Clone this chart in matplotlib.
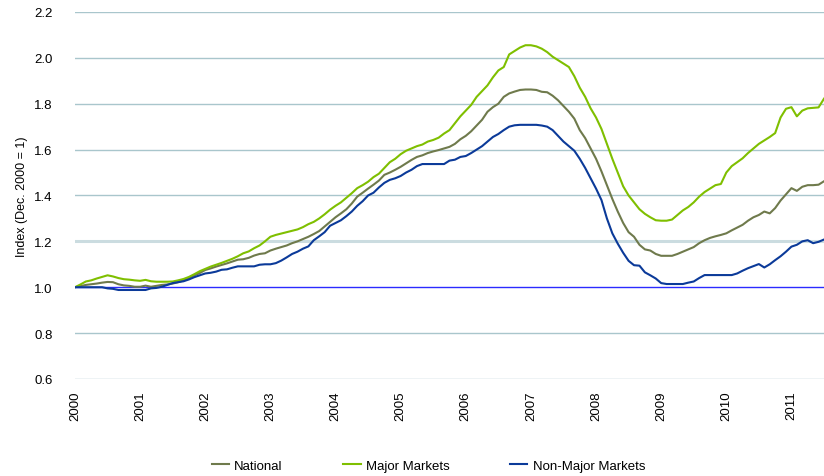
import numpy as np
import matplotlib
matplotlib.use("Agg")
from matplotlib import pyplot as plt

plt.rcParams['font.family'] = ['Liberation Sans', 'DejaVu Sans']

# monthly index values, Jan 2000 onwards (Dec. 2000 = 1)
national = [
    1.000, 1.005, 1.010, 1.013, 1.016, 1.020, 1.023, 1.022, 1.013, 1.008, 1.006, 1.002,
    1.002, 1.007, 1.002, 1.006, 1.010, 1.012, 1.016, 1.022, 1.030, 1.040, 1.052, 1.062,
    1.075, 1.082, 1.090, 1.097, 1.104, 1.112, 1.120, 1.122, 1.128, 1.138, 1.145, 1.148,
    1.160, 1.168, 1.175, 1.182, 1.192, 1.200, 1.210, 1.220, 1.232, 1.245, 1.265, 1.285,
    1.305, 1.322, 1.340, 1.365, 1.395, 1.412, 1.430, 1.447, 1.465, 1.490, 1.500, 1.512,
    1.525, 1.540, 1.555, 1.568, 1.575, 1.585, 1.592, 1.598, 1.605, 1.612, 1.625, 1.645,
    1.660, 1.680, 1.705, 1.730, 1.765, 1.785, 1.800, 1.830, 1.845, 1.853, 1.860, 1.862,
    1.862, 1.860, 1.852, 1.850, 1.835, 1.815, 1.790, 1.765, 1.735, 1.685, 1.650, 1.605,
    1.560, 1.505, 1.445, 1.385, 1.330, 1.280, 1.240, 1.220, 1.185, 1.165, 1.160, 1.145,
    1.137, 1.137, 1.137, 1.145, 1.155, 1.165, 1.175, 1.192, 1.205, 1.215, 1.222, 1.228,
    1.235, 1.248, 1.260, 1.272, 1.290, 1.305, 1.315, 1.330, 1.322, 1.345, 1.378, 1.405,
    1.432, 1.420, 1.438, 1.445, 1.445, 1.447, 1.462,
]
major = [
    1.000, 1.012, 1.025, 1.030, 1.038, 1.045, 1.052, 1.047, 1.040, 1.035, 1.033, 1.030,
    1.028, 1.032, 1.026, 1.024, 1.024, 1.024, 1.025, 1.030, 1.036, 1.045, 1.057, 1.070,
    1.080, 1.090, 1.098, 1.106, 1.115, 1.124, 1.135, 1.148, 1.156, 1.170, 1.182, 1.200,
    1.220, 1.228, 1.234, 1.240, 1.246, 1.252, 1.262, 1.275, 1.285, 1.300, 1.318, 1.338,
    1.355, 1.370, 1.390, 1.410, 1.432, 1.445, 1.460, 1.480, 1.495, 1.520, 1.545, 1.560,
    1.580, 1.595, 1.605, 1.615, 1.622, 1.635, 1.642, 1.652, 1.670, 1.685, 1.715, 1.745,
    1.770, 1.795, 1.830, 1.855, 1.880, 1.915, 1.945, 1.960, 2.015, 2.030, 2.045, 2.055,
    2.055, 2.050, 2.040, 2.025, 2.005, 1.990, 1.975, 1.960, 1.920, 1.870, 1.830, 1.780,
    1.740, 1.690, 1.625, 1.560, 1.500, 1.440, 1.400, 1.370, 1.340, 1.320, 1.305, 1.292,
    1.290, 1.290, 1.295, 1.315, 1.335, 1.350, 1.370, 1.395, 1.415, 1.430, 1.445, 1.450,
    1.500, 1.528, 1.545, 1.562, 1.585, 1.605, 1.625, 1.640, 1.655, 1.672, 1.740, 1.778,
    1.785, 1.745, 1.770, 1.780, 1.782, 1.784, 1.822,
]
non_major = [
    1.000, 1.000, 1.000, 1.000, 1.000, 1.000, 0.995, 0.993, 0.988, 0.988, 0.988, 0.988,
    0.988, 0.988, 0.995, 0.997, 1.002, 1.010, 1.018, 1.022, 1.026, 1.034, 1.044, 1.052,
    1.060, 1.063, 1.068, 1.076, 1.078, 1.085, 1.091, 1.091, 1.091, 1.091, 1.098, 1.100,
    1.100, 1.105, 1.116, 1.130, 1.145, 1.155, 1.168, 1.178, 1.205, 1.222, 1.240, 1.268,
    1.280, 1.292, 1.310, 1.330, 1.355, 1.375, 1.400, 1.412, 1.435, 1.455, 1.468, 1.475,
    1.485, 1.500, 1.512, 1.528, 1.537, 1.537, 1.537, 1.537, 1.537, 1.552, 1.556, 1.568,
    1.572, 1.585, 1.600, 1.615, 1.635, 1.655, 1.668, 1.685, 1.700, 1.706, 1.708, 1.708,
    1.708, 1.708, 1.705, 1.700, 1.685, 1.660, 1.635, 1.615, 1.595, 1.560, 1.520, 1.475,
    1.430, 1.380, 1.300, 1.235, 1.190, 1.150, 1.115, 1.096, 1.094, 1.065, 1.052, 1.038,
    1.018, 1.014, 1.014, 1.014, 1.014, 1.020, 1.025, 1.040, 1.053, 1.053, 1.053, 1.053,
    1.053, 1.053, 1.060, 1.072, 1.083, 1.092, 1.101, 1.086, 1.100, 1.118, 1.135, 1.155,
    1.177, 1.185, 1.200, 1.205, 1.192, 1.198, 1.208,
]
years = list(range(2000, 2012))
y_ticks = [0.6, 0.8, 1.0, 1.2, 1.4, 1.6, 1.8, 2.0, 2.2]

t = 2000 + np.arange(len(national)) / 12.0

fig = plt.figure(figsize=(8.24, 4.77), dpi=100)
ax = fig.add_axes([0.091, 0.2034, 0.909, 0.7694])

for yv in y_ticks:
    if yv == 1.0:
        continue
    ax.axhline(yv, color='#a9c6cc', lw=1.0 if yv != 1.2 else 2.2,
               alpha=1.0 if yv != 1.2 else 0.6, zorder=1)
ax.axhline(1.0, color='#2b2bff', lw=1.0, zorder=2)

ax.plot(t, national, color='#6f7a4c', lw=1.5, label='National', zorder=3)
ax.plot(t, major, color='#7fbf00', lw=1.5, label='Major Markets', zorder=3)
ax.plot(t, non_major, color='#0b3a99', lw=1.5, label='Non-Major Markets', zorder=3)

ax.set_xlim(t[0], t[-1])
ax.set_ylim(0.6, 2.2)
ax.set_yticks(y_ticks)
ax.set_yticklabels(['%.1f' % v for v in y_ticks], fontsize=9.5)
ax.set_xticks(years)
ax.set_xticklabels([str(y) for y in years], rotation=90, fontsize=9.5)
ax.tick_params(length=0, pad=8)
ax.tick_params(axis='y', pad=16)
for s in ax.spines.values():
    s.set_visible(False)
ax.set_ylabel('Index (Dec. 2000 = 1)', fontsize=9)
ax.yaxis.set_label_coords(-0.063, 0.5)

fig.legend(loc='center', bbox_to_anchor=(0.52, 0.021), ncol=3, frameon=False,
           fontsize=9.5, handlelength=1.3, columnspacing=4.6, handletextpad=0.4)

fig.savefig('out.png', dpi=100)
